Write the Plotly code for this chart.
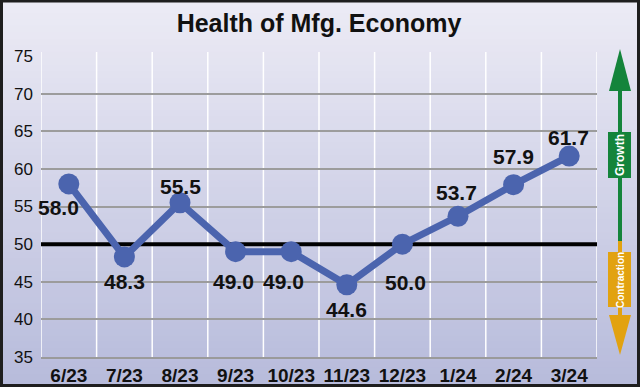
import plotly.graph_objects as go

# ---- data ----
months = ["6/23", "7/23", "8/23", "9/23", "10/23", "11/23", "12/23", "1/24", "2/24", "3/24"]
pmi = [58.0, 48.3, 55.5, 49.0, 49.0, 44.6, 50.0, 53.7, 57.9, 61.7]
y_ticks = [35, 40, 45, 50, 55, 60, 65, 70, 75]
threshold = 50

# ---- label placement (pixel offsets, style only) ----
label_dx = [-10, 0, 0, -2, -8, 0, 3, -2, 0, -1]
label_dy = [-24, -25, 16, -30, -30, -25, -38, 24, 28, 19]

W, H = 640, 387
L, R, T, B = 41, 43, 56, 30
PW, PH = W - L - R, H - T - B

def px(x):
    return (x - L) / PW

def py(y):
    return (H - B - y) / PH

LINE = "#4b64ae"
GREEN = "#14843b"
ORANGE = "#e2a210"
SANS = "Liberation Sans, Arial, sans-serif"

idx = list(range(len(months)))
n = len(months)

fig = go.Figure()
# threshold line (drawn first, under the series)
fig.add_trace(go.Scatter(
    x=[-0.5, n - 0.5], y=[threshold, threshold], mode="lines",
    line=dict(color="black", width=4), hoverinfo="skip", showlegend=False,
))
fig.add_trace(go.Scatter(
    x=idx, y=pmi, mode="lines+markers",
    line=dict(color=LINE, width=7),
    marker=dict(color=LINE, size=21),
    hoverinfo="skip", showlegend=False,
))

shapes = []
# gradient background
top_c = (236, 235, 245)
bot_c = (183, 187, 219)
N = 60
for i in range(N):
    t = i / (N - 1)
    c = tuple(round(top_c[k] + (bot_c[k] - top_c[k]) * t) for k in range(3))
    y0 = H * i / N
    y1 = H * (i + 1) / N + 1
    shapes.append(dict(type="rect", xref="paper", yref="paper", layer="below",
                       x0=px(0), x1=px(W), y0=py(y1), y1=py(y0),
                       fillcolor="rgb(%d,%d,%d)" % c, line=dict(width=0)))
# vertical white boundaries between months
for i in range(n + 1):
    shapes.append(dict(type="line", xref="x", yref="paper", layer="below",
                       x0=i - 0.5, x1=i - 0.5, y0=0, y1=py(52),
                       line=dict(color="white", width=1.5)))
# frame
shapes.append(dict(type="rect", xref="paper", yref="paper", layer="above",
                   x0=px(1.5), x1=px(W - 1.5), y0=py(H - 1.5), y1=py(1),
                   fillcolor="rgba(0,0,0,0)", line=dict(color="#1e1e1e", width=3)))
# growth / contraction arrow
ax = 620
shapes.append(dict(type="line", xref="paper", yref="paper", layer="above",
                   x0=px(ax), x1=px(ax), y0=py(88), y1=py(241),
                   line=dict(color=GREEN, width=4)))
shapes.append(dict(type="line", xref="paper", yref="paper", layer="above",
                   x0=px(ax), x1=px(ax), y0=py(241), y1=py(318),
                   line=dict(color=ORANGE, width=4)))
shapes.append(dict(type="path", xref="paper", yref="paper", layer="above",
                   path="M %f %f L %f %f L %f %f Z" % (px(ax), py(49), px(609), py(91), px(631), py(91)),
                   fillcolor=GREEN, line=dict(width=0)))
shapes.append(dict(type="path", xref="paper", yref="paper", layer="above",
                   path="M %f %f L %f %f L %f %f Z" % (px(ax), py(355), px(609), py(315), px(631), py(315)),
                   fillcolor=ORANGE, line=dict(width=0)))
shapes.append(dict(type="rect", xref="paper", yref="paper", layer="above",
                   x0=px(608), x1=px(631), y0=py(178), y1=py(132),
                   fillcolor=GREEN, line=dict(width=0)))
shapes.append(dict(type="rect", xref="paper", yref="paper", layer="above",
                   x0=px(608), x1=px(631), y0=py(307), y1=py(252),
                   fillcolor=ORANGE, line=dict(width=0)))

annotations = []
for i, v, dx, dy in zip(idx, pmi, label_dx, label_dy):
    annotations.append(dict(x=i, y=v, xref="x", yref="y", text="<b>%.1f</b>" % v,
                            showarrow=False, xshift=dx, yshift=dy,
                            font=dict(family=SANS, size=21, color="#111111")))
annotations.append(dict(x=px(620), y=py(155), xref="paper", yref="paper",
                        xanchor="center", yanchor="middle",
                        text="<b>Growth</b>", textangle=-90, showarrow=False,
                        font=dict(family=SANS, size=12, color="white")))
annotations.append(dict(x=px(620), y=py(280), xref="paper", yref="paper",
                        xanchor="center", yanchor="middle",
                        text="<b>Contraction</b>", textangle=-90, showarrow=False,
                        font=dict(family=SANS, size=10, color="white")))

fig.update_layout(
    width=W, height=H,
    margin=dict(l=L, r=R, t=T, b=B, autoexpand=False),
    paper_bgcolor="#d0d2e8",
    plot_bgcolor="rgba(0,0,0,0)",
    title=dict(text="<b>Health of Mfg. Economy</b>", x=0.5, xanchor="center",
               xref="paper", y=1 - 23 / H, yref="container", yanchor="middle",
               font=dict(family=SANS, size=25, color="#111111")),
    shapes=shapes,
    annotations=annotations,
    xaxis=dict(range=[-0.5, n - 0.5], tickvals=idx,
               ticktext=["<b>%s</b>" % m for m in months],
               showgrid=False, zeroline=False,
               ticks="", showline=True, linecolor="#9a9a9a", linewidth=2,
               tickfont=dict(family=SANS, size=19, color="#111111"),
               fixedrange=True),
    yaxis=dict(range=[35, 75], tickvals=y_ticks, showgrid=True, gridcolor="#9c9c9c",
               gridwidth=1.5, zeroline=False, ticks="", ticklabelstandoff=7,
               tickfont=dict(family=SANS, size=17, color="#111111"), fixedrange=True),
)

fig.write_html("out.html", config={"displayModeBar": False},
               post_script="document.body.style.margin='0';")
